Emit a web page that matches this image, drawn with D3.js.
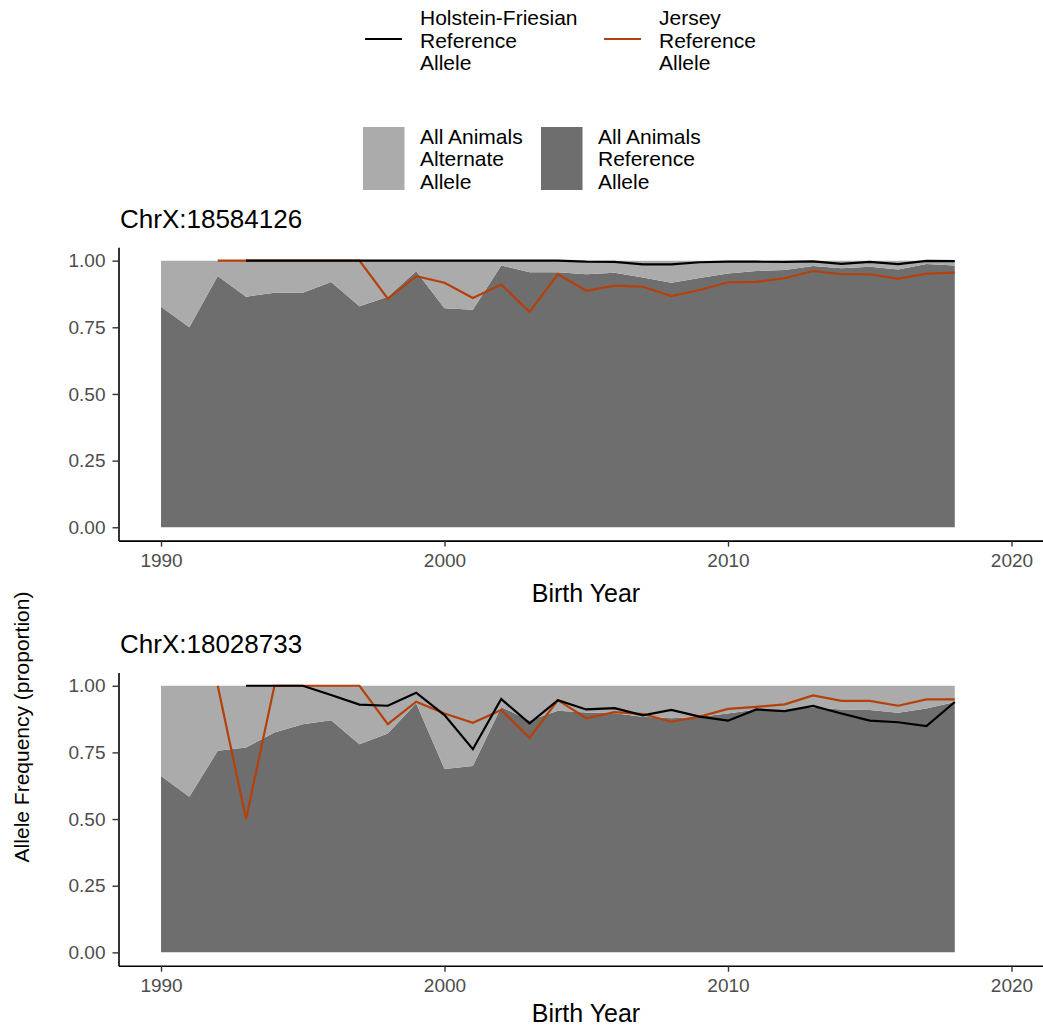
<!DOCTYPE html>
<html>
<head>
<meta charset="utf-8">
<script src="https://cdn.jsdelivr.net/npm/d3@7"></script>
<style>
  body { margin: 0; background: #fff; }
  svg { display: block; font-family: "Liberation Sans", Arial, Helvetica, sans-serif; }
</style>
</head>
<body>
<svg width="1043" height="1029"></svg>
<script>
var years = d3.range(1990, 2019);
var xTicks = [1990, 2000, 2010, 2020];
var yTicks = [0, 0.25, 0.5, 0.75, 1];

// ChrX:18584126
var refTop = [0.827, 0.75, 0.942, 0.865, 0.88, 0.88, 0.92, 0.829, 0.865, 0.96, 0.821, 0.816, 0.982, 0.956, 0.956,
  0.949, 0.955, 0.937, 0.917, 0.935, 0.952, 0.961, 0.965, 0.98, 0.971, 0.977, 0.967, 0.987, 0.982];
var holTop = [null, null, null, 1, 1, 1, 1, 1, 1, 1, 1, 1, 1, 1, 1,
  0.996, 0.995, 0.986, 0.986, 0.994, 0.996, 0.996, 0.995, 0.997, 0.988, 0.995, 0.987, 0.999, 0.998];
var jerTop = [null, null, 1, 1, 1, 1, 1, 1, 0.857, 0.942, 0.917, 0.86, 0.91, 0.808, 0.949,
  0.887, 0.906, 0.902, 0.867, 0.89, 0.919, 0.92, 0.934, 0.961, 0.949, 0.949, 0.932, 0.951, 0.955];

// ChrX:18028733
var refBot = [0.661, 0.584, 0.756, 0.768, 0.825, 0.856, 0.871, 0.781, 0.821, 0.934, 0.688, 0.699, 0.92, 0.87, 0.906,
  0.9, 0.897, 0.884, 0.878, 0.884, 0.896, 0.911, 0.911, 0.918, 0.911, 0.909, 0.899, 0.915, 0.939];
var holBot = [null, null, null, 1, 1, 1, 0.965, 0.929, 0.925, 0.974, 0.89, 0.762, 0.95, 0.859, 0.946,
  0.911, 0.916, 0.889, 0.909, 0.884, 0.869, 0.911, 0.905, 0.924, 0.896, 0.869, 0.863, 0.849, 0.939];
var jerBot = [null, null, 1, 0.5, 1, 1, 1, 1, 0.856, 0.94, 0.896, 0.861, 0.909, 0.805, 0.946,
  0.878, 0.901, 0.894, 0.865, 0.884, 0.913, 0.921, 0.93, 0.964, 0.943, 0.943, 0.925, 0.949, 0.949];

var darkFill = "#6e6e6e", lightFill = "#ababab", jerseyCol = "#b5400a";

var svg = d3.select("svg");

var x = d3.scaleLinear().domain([1988.5, 2021.5]).range([118.5, 1054]);

function drawPanel(title, ref, hol, jer, top, labelY) {
  var y = d3.scaleLinear().domain([-0.05, 1.05]).range([top + 293.3, top]);
  var g = svg.append("g");

  var rows = years.map(function(yr, i) { return { year: yr, ref: ref[i], alt: 1 - ref[i], hol: hol[i], jer: jer[i] }; });
  var stacked = d3.stack().keys(["ref", "alt"])(rows);

  var area = d3.area()
    .x(function(d) { return x(d.data.year); })
    .y0(function(d) { return y(d[0]); })
    .y1(function(d) { return y(d[1]); });

  g.selectAll("path.area")
    .data(stacked)
    .enter().append("path")
    .attr("class", "area")
    .attr("fill", function(d) { return d.key == "ref" ? darkFill : lightFill; })
    .attr("d", area);

  // Jersey underneath, Holstein on top
  var line = function(key) {
    return d3.line()
      .defined(function(d) { return d[key] != null; })
      .x(function(d) { return x(d.year); })
      .y(function(d) { return y(d[key]); });
  };
  g.append("path").datum(rows)
    .attr("fill", "none").attr("stroke", jerseyCol).attr("stroke-width", 2.2)
    .attr("d", line("jer"));
  g.append("path").datum(rows)
    .attr("fill", "none").attr("stroke", "#000").attr("stroke-width", 2.2)
    .attr("d", line("hol"));

  // axes
  var xa = g.append("g")
    .attr("transform", "translate(0," + (top + 293.3) + ")")
    .call(d3.axisBottom(x).tickValues(xTicks).tickFormat(d3.format("d")).tickSize(6).tickSizeOuter(0).tickPadding(7));
  var ya = g.append("g")
    .attr("transform", "translate(118.5,0)")
    .call(d3.axisLeft(y).tickValues(yTicks).tickFormat(d3.format(".2f")).tickSize(6).tickSizeOuter(0).tickPadding(7));

  [xa, ya].forEach(function(a) {
    a.select(".domain").attr("stroke", "#000").attr("stroke-width", 1.6);
    a.selectAll(".tick line").attr("stroke", "#333").attr("stroke-width", 1.4);
    a.selectAll(".tick text").attr("fill", "#4d4d4d").style("font-size", "19px")
      .style("font-family", "Liberation Sans, Arial, sans-serif");
  });

  // title
  svg.append("text")
    .attr("x", 120).attr("y", top - 19)
    .style("font-size", "26px")
    .text(title);

  // x label
  svg.append("text")
    .attr("x", 586).attr("y", labelY)
    .attr("text-anchor", "middle")
    .style("font-size", "25px")
    .text("Birth Year");
}

drawPanel("ChrX:18584126", refTop, holTop, jerTop, 247.3, 601.5);
drawPanel("ChrX:18028733", refBot, holBot, jerBot, 672.4, 1021.5);

// shared y label
svg.append("text")
  .attr("transform", "translate(29,727)rotate(-90)")
  .attr("text-anchor", "middle")
  .style("font-size", "21px")
  .text("Allele Frequency (proportion)");

// legends
var lineLegend = [
  { x: 365, col: "#000", lines: ["Holstein-Friesian", "Reference", "Allele"] },
  { x: 604, col: jerseyCol, lines: ["Jersey", "Reference", "Allele"] }
];
var fillLegend = [
  { x: 363, col: lightFill, lines: ["All Animals", "Alternate", "Allele"] },
  { x: 541, col: darkFill, lines: ["All Animals", "Reference", "Allele"] }
];

lineLegend.forEach(function(d) {
  svg.append("line")
    .attr("x1", d.x).attr("x2", d.x + 37)
    .attr("y1", 39).attr("y2", 39)
    .attr("stroke", d.col).attr("stroke-width", 2.2);
  var t = svg.append("text").attr("x", d.x + 55).attr("y", 25).style("font-size", "21px");
  d.lines.forEach(function(s, i) {
    t.append("tspan").attr("x", d.x + 55).attr("dy", i == 0 ? 0 : 22.5).text(s);
  });
});

fillLegend.forEach(function(d) {
  svg.append("rect")
    .attr("x", d.x).attr("y", 127)
    .attr("width", 41.5).attr("height", 63)
    .attr("fill", d.col);
  var t = svg.append("text").attr("x", d.x + 57).attr("y", 143.5).style("font-size", "21px");
  d.lines.forEach(function(s, i) {
    t.append("tspan").attr("x", d.x + 57).attr("dy", i == 0 ? 0 : 22.8).text(s);
  });
});
</script>
</body>
</html>
